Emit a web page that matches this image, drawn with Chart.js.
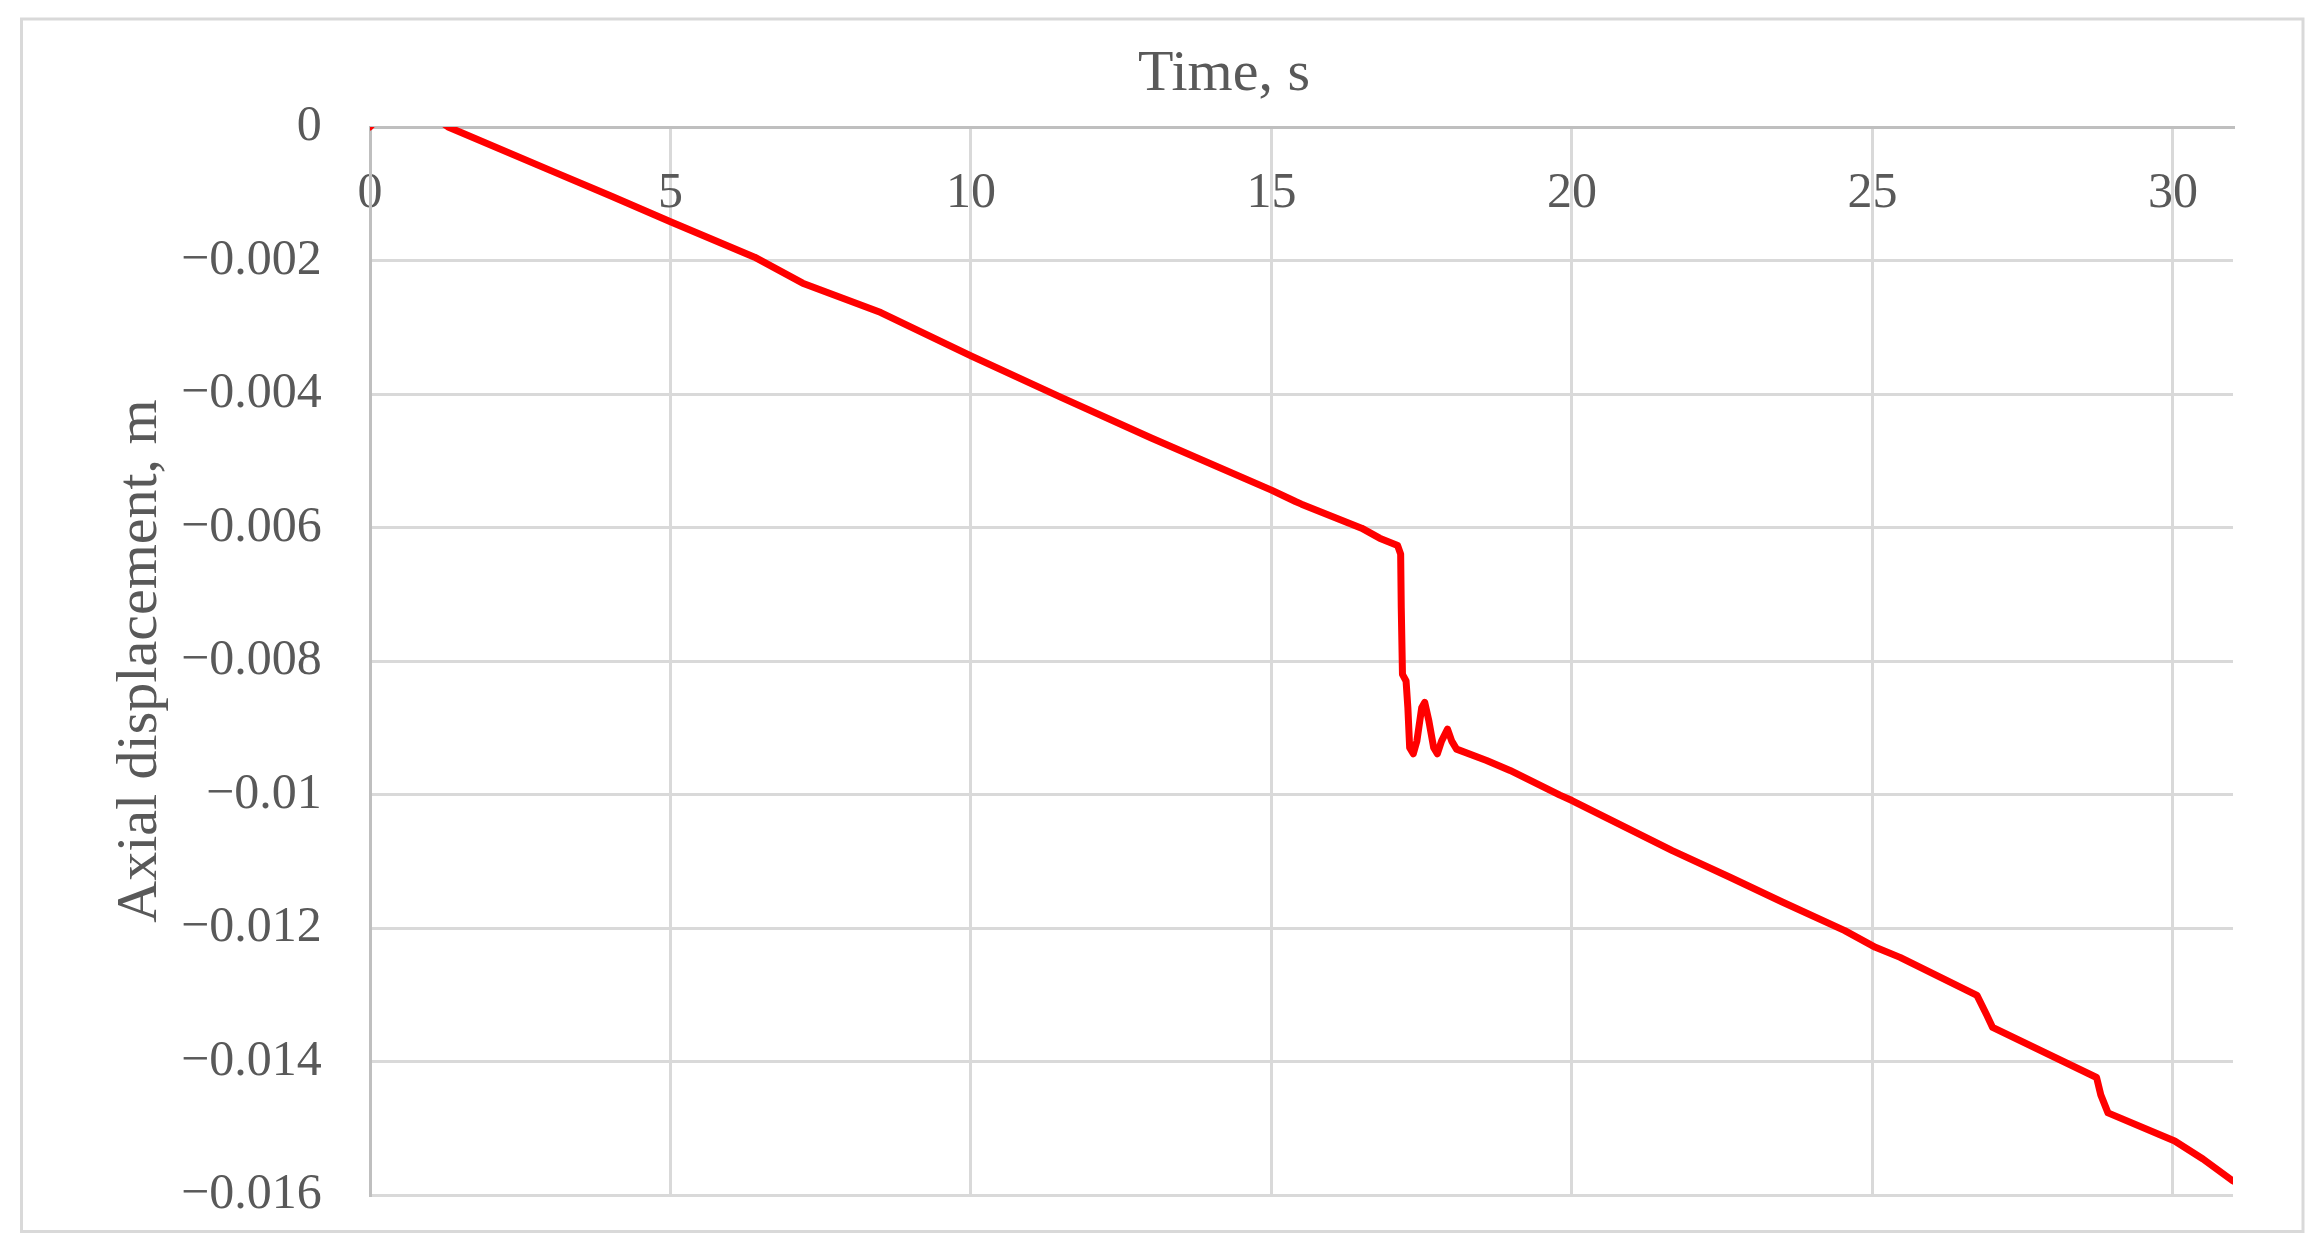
<!DOCTYPE html>
<html>
<head>
<meta charset="utf-8">
<script src="https://cdn.jsdelivr.net/npm/chart.js@4.4.0/dist/chart.umd.min.js"></script>
<style>
    body { margin: 0; background: #ffffff; }
    canvas { display: block; }
</style>
</head>
<body>
<canvas id="dispChart" width="2322" height="1257"></canvas>
<script>
/* Data */
const timeSeconds = [
    0, 0.1, 1.15, 1.3, 3, 4, 5, 6.4, 7.2, 8.5, 10, 11.5, 13, 15, 15.4, 15.5,
    16.5, 16.8, 17.1, 17.15, 17.16, 17.18, 17.24, 17.27, 17.3, 17.36, 17.42,
    17.5, 17.55, 17.62, 17.7, 17.76, 17.83, 17.93, 18.0, 18.08, 18.58, 18.97,
    19.8, 20, 21.67, 22.63, 23.5, 24.54, 25.05, 25.46, 26.74, 26.9, 27.0,
    28.73, 28.8, 28.92, 30.03, 30.5, 31.0
];
const axialDisplacement = [
    0, 0.0001, 0.0001, 0, -0.00065, -0.00103, -0.00142, -0.00195, -0.00234,
    -0.00278, -0.00343, -0.00405, -0.00466, -0.00544, -0.00561, -0.00565,
    -0.00601, -0.00616, -0.00627, -0.0064, -0.0072, -0.0082, -0.0083, -0.0087,
    -0.0093, -0.00939, -0.0092, -0.0087, -0.00862, -0.0089, -0.0093, -0.00939,
    -0.0092, -0.00902, -0.0092, -0.00932, -0.00949, -0.00964, -0.01001,
    -0.01009, -0.01084, -0.01124, -0.01161, -0.01204, -0.01229, -0.01244,
    -0.01301, -0.0133, -0.01349, -0.01424, -0.0145, -0.01477, -0.01519,
    -0.01546, -0.01579
];

const xMin = 0, xMax = 31, xStep = 5;
const yMin = -0.016, yMax = 0, yStep = 0.002;

const points = timeSeconds.map((t, i) => ({ x: t, y: axialDisplacement[i] }));

const textGray = '#595959';
const gridGray = '#d9d9d9';
const axisGray = '#bfbfbf';
const serif = 'Liberation Serif';

// light grey frame round the whole chart
const framePlugin = {
    id: 'frame',
    beforeDraw(chart) {
        const ctx = chart.ctx;
        ctx.save();
        ctx.strokeStyle = '#d9d9d9';
        ctx.lineWidth = 3;
        ctx.strokeRect(21.5, 19, 2281.5, 1212.5);
        ctx.restore();
    }
};

function fmtTick(v) {
    const r = Math.round(v * 1000) / 1000;
    if (r === 0) return '0';
    return String(r).replace('-', '\u2212');
}

/* Create chart */
const my_chart = new Chart('dispChart', {
    type: 'line',
    data: {
        datasets: [
            {
                label: 'Axial displacement',
                data: points,
                borderColor: '#ff0000',
                backgroundColor: '#ff0000',
                borderWidth: 7,
                borderJoinStyle: 'round',
                borderCapStyle: 'round',
                pointRadius: 0,
                tension: 0,
                fill: false,
            }
        ]
    },
    options: {
        responsive: false,
        animation: false,
        layout: {
            padding: { left: 215, right: 89, top: 20, bottom: 62 }
        },
        scales: {
            x: {
                type: 'linear',
                position: { y: 0 },
                min: xMin,
                max: xMax,
                grid: { color: gridGray, lineWidth: 3, drawTicks: false },
                border: { color: axisGray, width: 3 },
                ticks: {
                    stepSize: xStep,
                    includeBounds: false,
                    maxRotation: 0,
                    padding: 37,
                    color: textGray,
                    font: { family: serif, size: 50 }
                }
            },
            y: {
                type: 'linear',
                position: 'left',
                min: yMin,
                max: yMax,
                afterFit(scale) { scale.width = 155; },
                grid: { color: gridGray, lineWidth: 3, drawTicks: false },
                border: { color: axisGray, width: 3 },
                ticks: {
                    stepSize: yStep,
                    // mirrored so the labels are not clipped to the narrow axis box
                    mirror: true,
                    crossAlign: 'far',
                    padding: -189,
                    color: textGray,
                    font: { family: serif, size: 50 },
                    callback: fmtTick
                },
                title: {
                    display: true,
                    text: 'Axial displacement, m',
                    color: textGray,
                    font: { family: serif, size: 58 },
                    padding: { top: -108.8, bottom: 0 }
                }
            }
        },
        plugins: {
            legend: { display: false },
            tooltip: { enabled: false },
            title: {
                display: true,
                text: 'Time, s',
                color: textGray,
                font: { family: serif, size: 58, weight: 'normal' },
                padding: { top: 20, bottom: 17.4 }
            }
        }
    },
    plugins: [framePlugin]
});
</script>
</body>
</html>
